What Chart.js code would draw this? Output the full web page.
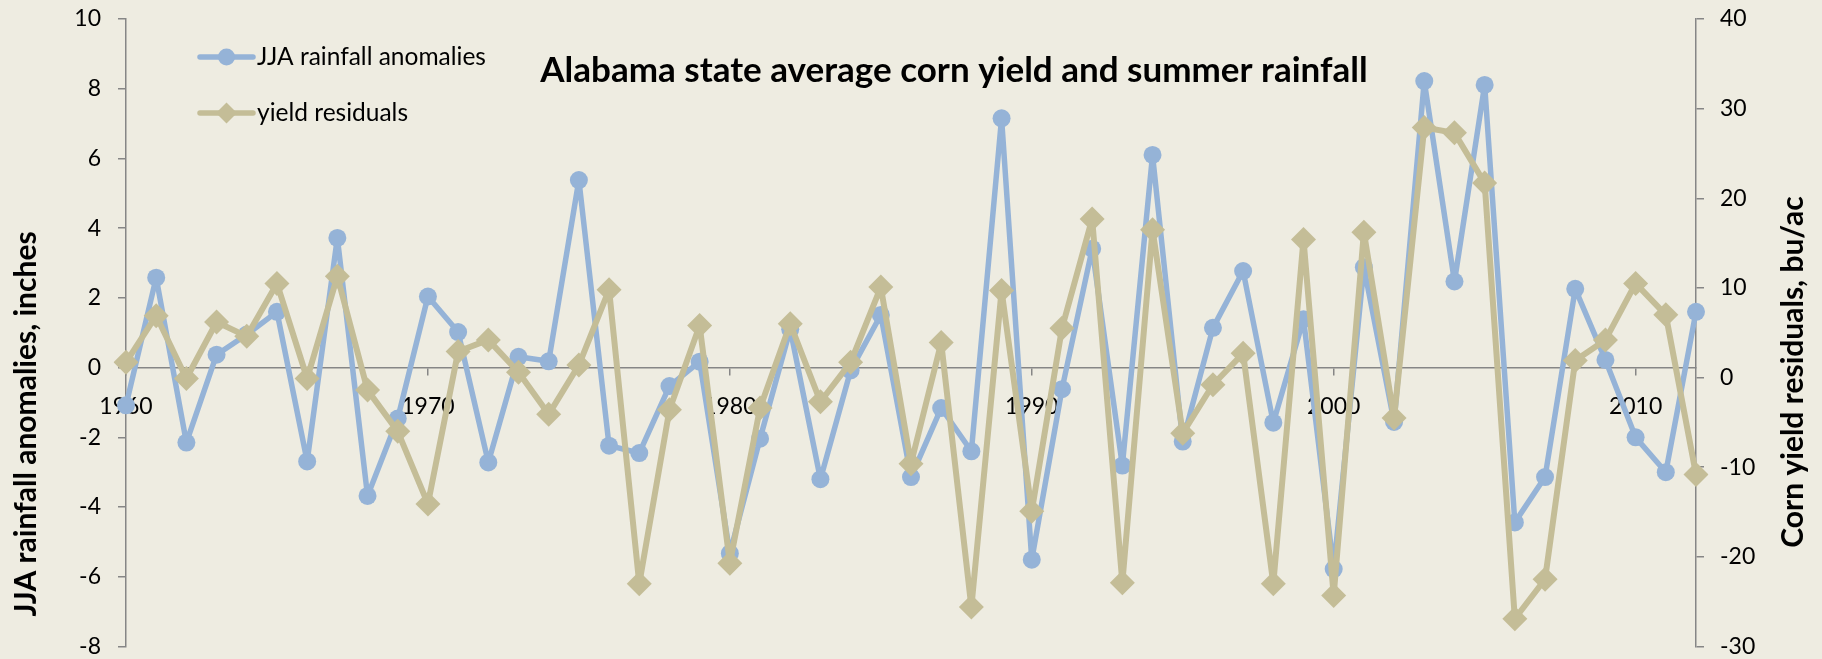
<!DOCTYPE html>
<html>
<head>
<meta charset="utf-8">
<title>Alabama state average corn yield and summer rainfall</title>
<script src="https://cdn.jsdelivr.net/npm/chart.js@4.4.1/dist/chart.umd.min.js"></script>
<style>
  html, body { margin: 0; padding: 0; background: #EEECE1; }
  #wrap { width: 1822px; height: 659px; }
</style>
</head>
<body>
<div id="wrap"><canvas id="myChart" width="1822" height="659"></canvas></div>
<script>
// years on the x axis
var years = [
  "1960","1961","1962","1963","1964","1965","1966","1967","1968","1969",
  "1970","1971","1972","1973","1974","1975","1976","1977","1978","1979",
  "1980","1981","1982","1983","1984","1985","1986","1987","1988","1989",
  "1990","1991","1992","1993","1994","1995","1996","1997","1998","1999",
  "2000","2001","2002","2003","2004","2005","2006","2007","2008","2009",
  "2010","2011","2012"
];
// JJA rainfall anomalies, inches (left axis)
var rainfall = [
  -1.08, 2.58, -2.15, 0.37, 0.95, 1.60, -2.69, 3.72, -3.68, -1.46,
   2.04, 1.02, -2.72, 0.31, 0.18, 5.38, -2.24, -2.45, -0.53, 0.17,
  -5.33, -2.04, 1.10, -3.20, -0.08, 1.51, -3.14, -1.16, -2.40, 7.15,
  -5.51, -0.62, 3.41, -2.81, 6.10, -2.12, 1.14, 2.77, -1.58, 1.39,
  -5.78, 2.88, -1.56, 8.22, 2.47, 8.11, -4.44, -3.14, 2.26, 0.22,
  -2.00, -3.00, 1.60
];
// corn yield residuals, bu/ac (right axis)
var yieldResid = [
    1.7, 6.9, -0.1, 6.2, 4.6, 10.5, -0.1, 11.3, -1.4, -6.0,
  -14.1, 2.9, 4.2, 0.6, -4.1, 1.4, 9.8, -23.0, -3.6, 5.8,
  -20.7, -3.4, 6.0, -2.7, 1.7, 10.1, -9.6, 3.9, -25.6, 9.7,
  -14.9, 5.5, 17.7, -22.9, 16.5, -6.2, -0.8, 2.7, -23.0, 15.4,
  -24.3, 16.2, -4.5, 27.9, 27.3, 21.7, -26.9, -22.5, 1.9, 4.2,
   10.5, 7.0, -10.8
];
var leftTicks  = [-8, -6, -4, -2, 0, 2, 4, 6, 8, 10];
var rightTicks = [-30, -20, -10, 0, 10, 20, 30, 40];
var xLabels    = ["1960", "1970", "1980", "1990", "2000", "2010"];

var chartTitle = "Alabama state average corn yield and summer rainfall";
var leftTitle  = "JJA rainfall anomalies, inches";
var rightTitle = "Corn yield residuals, bu/ac";
var rainLabel  = "JJA rainfall anomalies";
var yieldLabel = "yield residuals";

var blue = "#95B3D7";
var tan  = "#C4BD97";
var axisGray = "#868686";

Chart.defaults.font.family = "Lato";
Chart.defaults.color = "#000";

// title, legend and axis titles sit inside the plot like in the excel chart
var overlay = {
  id: "overlay",
  afterDraw: function(chart) {
    var c = chart.ctx;
    c.save();
    c.fillStyle = "#000";
    c.textBaseline = "alphabetic";

    c.font = "bold 35px Lato";
    c.textAlign = "center";
    c.fillText(chartTitle, 954, 82);

    // legend
    c.font = "24.5px Lato";
    c.textAlign = "left";
    c.lineWidth = 5.5;
    c.lineCap = "round";
    c.strokeStyle = blue;
    c.beginPath(); c.moveTo(200, 57); c.lineTo(253, 57); c.stroke();
    c.fillStyle = blue;
    c.beginPath(); c.arc(226.5, 57, 8.5, 0, Math.PI * 2); c.fill();
    c.fillStyle = "#000";
    c.fillText(rainLabel, 257, 65);

    c.strokeStyle = tan;
    c.beginPath(); c.moveTo(200, 113); c.lineTo(253, 113); c.stroke();
    c.fillStyle = tan;
    c.beginPath();
    c.moveTo(226.5 - 10.5, 113); c.lineTo(226.5, 102.5); c.lineTo(226.5 + 10.5, 113); c.lineTo(226.5, 123.5);
    c.closePath(); c.fill();
    c.fillStyle = "#000";
    c.fillText(yieldLabel, 257, 121);

    // axis titles
    c.font = "bold 30px Lato";
    c.textAlign = "center";
    c.textBaseline = "middle";
    c.save();
    c.translate(26, 424); c.rotate(-Math.PI / 2);
    c.fillText(leftTitle, 0, 0);
    c.restore();
    c.save();
    c.translate(1793, 372); c.rotate(-Math.PI / 2);
    c.fillText(rightTitle, 0, 0);
    c.restore();

    c.restore();
  }
};

// y axes: fixed width, no extra padding from the labels
function fitY(s) {
  s.width = 126;
  s.paddingTop = 0;
  s.paddingBottom = 0;
}

var ctx = document.getElementById("myChart");
var chart = new Chart(ctx, {
  type: "line",
  data: {
    labels: years,
    datasets: [{
      label: rainLabel,
      data: rainfall,
      yAxisID: "y",
      borderColor: blue,
      backgroundColor: blue,
      borderWidth: 5.5,
      borderJoinStyle: "round",
      borderCapStyle: "round",
      pointStyle: "circle",
      pointRadius: 9,
      pointBorderWidth: 0,
      pointBackgroundColor: blue,
      tension: 0,
      order: 1
    }, {
      label: yieldLabel,
      data: yieldResid,
      yAxisID: "y1",
      borderColor: tan,
      backgroundColor: tan,
      borderWidth: 6,
      borderJoinStyle: "round",
      borderCapStyle: "round",
      pointStyle: "rectRot",
      pointRadius: 12.5,
      pointBorderWidth: 0,
      pointBackgroundColor: tan,
      tension: 0,
      order: 0
    }]
  },
  options: {
    responsive: false,
    animation: false,
    layout: { padding: { top: 19, bottom: 10, left: 0, right: 0 } },
    plugins: {
      legend: { display: false },
      title: { display: false },
      tooltip: { enabled: false }
    },
    scales: {
      x: {
        type: "category",
        position: { y: 0 },
        offset: false,
        grid: {
          drawOnChartArea: false,
          drawTicks: true,
          tickLength: 7,
          lineWidth: 1.5,
          color: function(c) { return xLabels.indexOf(years[c.index]) >= 0 ? axisGray : "rgba(0,0,0,0)"; }
        },
        border: { display: true, color: axisGray, width: 1.5 },
        ticks: {
          autoSkip: false,
          maxRotation: 0,
          padding: 18,
          font: { size: 23 },
          callback: function(v, i) { return xLabels.indexOf(years[i]) >= 0 ? years[i] : ""; }
        }
      },
      y: {
        position: "left",
        min: -8, max: 10,
        afterBuildTicks: function(s) { s.ticks = leftTicks.map(function(v) { return { value: v }; }); },
        afterFit: fitY,
        grid: { drawOnChartArea: false, drawTicks: true, tickLength: 8, lineWidth: 1.5, color: axisGray },
        border: { display: true, color: axisGray, width: 1.5 },
        ticks: { padding: 17, font: { size: 23 } }
      },
      y1: {
        position: "right",
        min: -30, max: 40,
        afterBuildTicks: function(s) { s.ticks = rightTicks.map(function(v) { return { value: v }; }); },
        afterFit: fitY,
        grid: { drawOnChartArea: false, drawTicks: true, tickLength: 8, lineWidth: 1.5, color: axisGray },
        border: { display: true, color: axisGray, width: 1.5 },
        ticks: { padding: 16, font: { size: 23 } }
      }
    }
  },
  plugins: [overlay]
});
</script>
</body>
</html>
